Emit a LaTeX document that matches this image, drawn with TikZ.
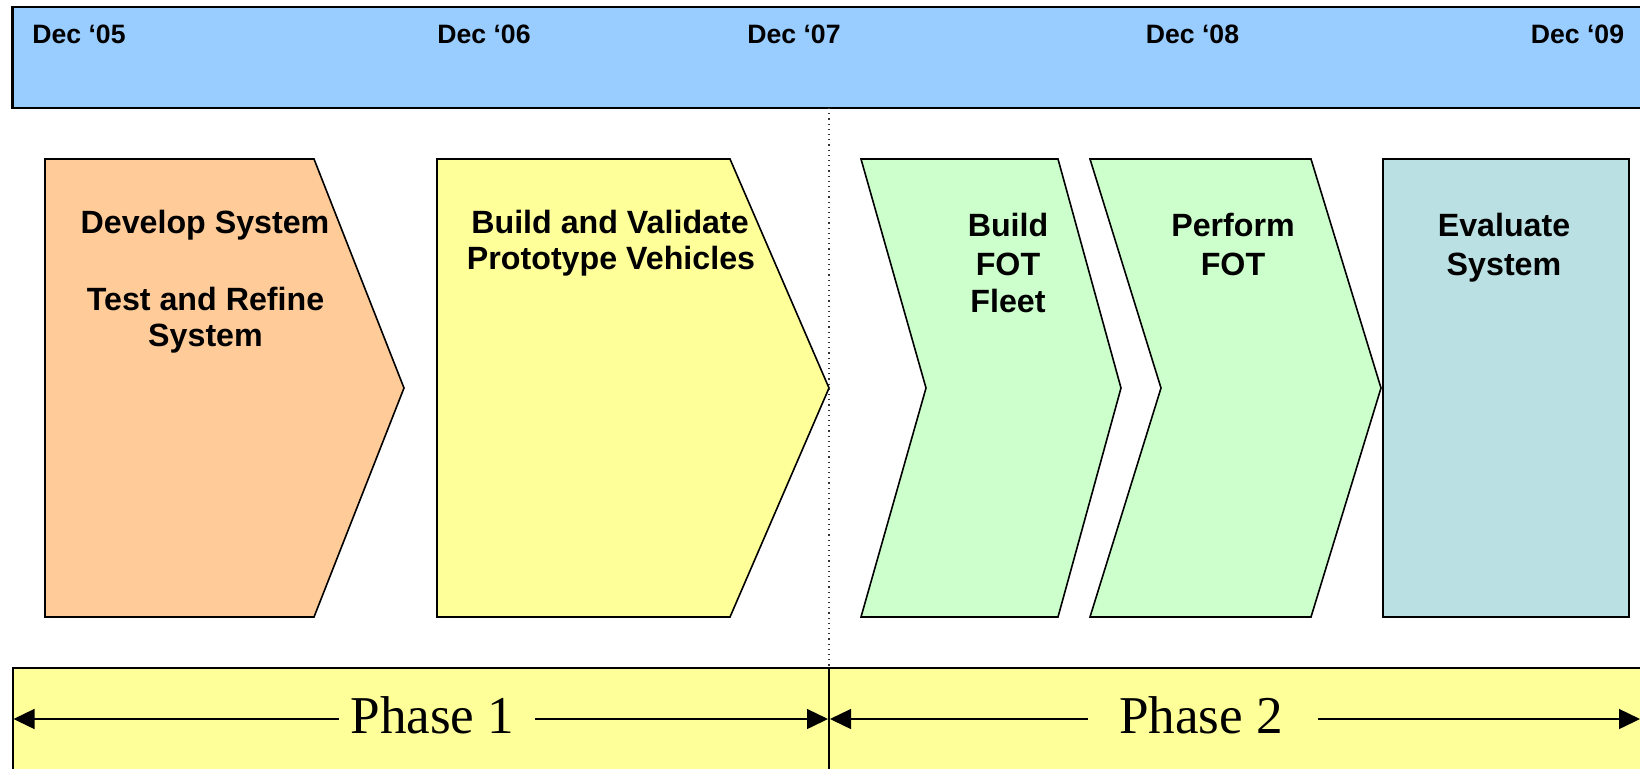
\documentclass[tikz,border=0pt]{standalone}
\usepackage{fontspec}
\setmainfont{Liberation Serif}
\setsansfont{Liberation Sans}
\usetikzlibrary{arrows.meta}
\definecolor{barblue}{HTML}{99CCFF}
\definecolor{boxorange}{HTML}{FFCC99}
\definecolor{boxyellow}{HTML}{FFFF99}
\definecolor{boxgreen}{HTML}{CCFFCC}
\definecolor{boxteal}{HTML}{BBE0E3}
\tikzset{
  shapebox/.style={draw=black, line width=0.8pt, line join=miter},
  datelbl/.style={inner sep=0pt, anchor=base, font=\sffamily\bfseries\fontsize{13.3}{15}\selectfont},
  boxlbl/.style={inner sep=0pt, anchor=base, font=\sffamily\bfseries\fontsize{16.1}{18}\selectfont},
  phaselbl/.style={inner sep=0pt, anchor=base, font=\rmfamily\fontsize{26.6}{30}\selectfont},
  phasearrow/.style={line width=0.7pt, -{Triangle[length=10.5pt,width=10pt]}},
}
\begin{document}
\begin{tikzpicture}[x=0.5pt, y=-0.5pt]
\clip (0,0) rectangle (1640,768);
\fill[white] (0,0) rectangle (1640,768);
% top timeline bar
\draw[fill=barblue, line width=1.2pt] (12.5,7) rectangle (1680,108);
\node[datelbl] (d05) at (79,43) {Dec ‘05};
\node[datelbl] (d06) at (484,43) {Dec ‘06};
\node[datelbl] (d07) at (794,43) {Dec ‘07};
\node[datelbl] (d08) at (1192.5,43) {Dec ‘08};
\node[datelbl] (d09) at (1577.5,43) {Dec ‘09};
% dotted divider
\coordinate (divtop) at (829,108);
\coordinate (divbot) at (829,668);
\draw[dotted, line width=0.6pt, black!80] (divtop) -- (divbot);
% process shapes
\draw[shapebox, fill=boxorange] (45,159) -- (314,159) -- (404,388) -- (314,617) -- (45,617) -- cycle;
\draw[shapebox, fill=boxyellow] (437,159) -- (730,159) -- (829,388) -- (730,617) -- (437,617) -- cycle;
\draw[shapebox, fill=boxgreen] (861,159) -- (1058,159) -- (1121,388) -- (1058,617) -- (861,617) -- (926,388) -- cycle;
\draw[shapebox, fill=boxgreen] (1090,159) -- (1311,159) -- (1381,388) -- (1311,617) -- (1090,617) -- (1161,388) -- cycle;
\draw[shapebox, fill=boxteal] (1383,159) rectangle (1629,617);
% labels
\node[boxlbl] (t1a) at (205,233) {Develop System};
\node[boxlbl] (t1b) at (205.5,310) {Test and Refine};
\node[boxlbl] (t1c) at (205.5,346.7) {System};
\node[boxlbl] (t2a) at (610,233) {Build and Validate};
\node[boxlbl] (t2b) at (611,269) {Prototype Vehicles};
\node[boxlbl] (t3a) at (1008,236) {Build};
\node[boxlbl] (t3b) at (1008,275) {FOT};
\node[boxlbl] (t3c) at (1008,312) {Fleet};
\node[boxlbl] (t4a) at (1233,236) {Perform};
\node[boxlbl] (t4b) at (1233,275) {FOT};
\node[boxlbl] (t5a) at (1504,236) {Evaluate};
\node[boxlbl] (t5b) at (1504,275) {System};
% bottom phase band
\draw[fill=boxyellow, line width=1pt] (12.5,668) rectangle (1680,800);
\draw[line width=1pt] (divbot) -- (829,800);
\node[phaselbl] (ph1) at (432.5,733) {Phase 1};
\node[phaselbl] (ph2) at (1201,733) {Phase 2};
\coordinate (a1l) at (339,719);
\coordinate (a1r) at (535,719);
\coordinate (a2l) at (1088,719);
\coordinate (a2r) at (1318,719);
\coordinate (e1l) at (13.5,719);
\coordinate (e1r) at (828,719);
\coordinate (e2l) at (830,719);
\coordinate (e2r) at (1640,719);
\draw[phasearrow] (a1l) -- (e1l);
\draw[phasearrow] (a1r) -- (e1r);
\draw[phasearrow] (a2l) -- (e2l);
\draw[phasearrow] (a2r) -- (e2r);
\end{tikzpicture}
\end{document}
